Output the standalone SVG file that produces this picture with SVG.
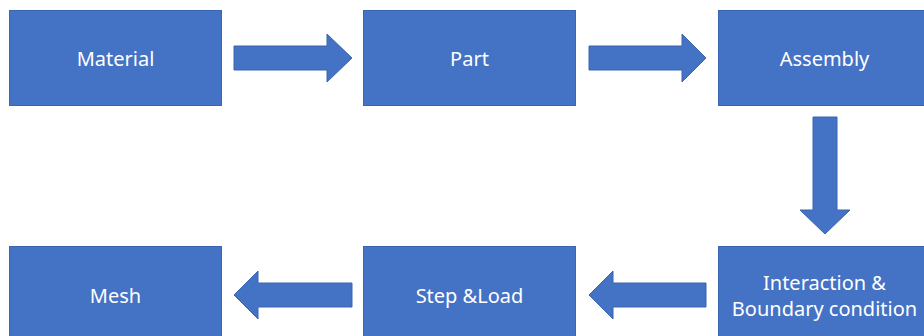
<svg xmlns="http://www.w3.org/2000/svg" width="924" height="336" viewBox="0 0 924 336">
<style>
.box{fill:#4472C4;stroke:#3A65B0;stroke-width:1}
.arr{fill:#4472C4;stroke:#3A65B0;stroke-width:1}
.t{font-family:"Noto Sans","Open Sans","DejaVu Sans",sans-serif;font-size:20px;fill:#FFFFFF;text-anchor:middle;dominant-baseline:central}
</style>
<rect width="924" height="336" fill="#FFFFFF"/>
<g id="material"><rect class="box" x="9.5" y="10.5" width="212" height="95"/><text class="t" x="115.5" y="58">Material</text></g>
<g id="part"><rect class="box" x="363.5" y="10.5" width="212" height="95"/><text class="t" x="469.5" y="58">Part</text></g>
<g id="assembly"><rect class="box" x="718.5" y="10.5" width="212" height="95"/><text class="t" x="824.5" y="58">Assembly</text></g>
<g id="interaction"><rect class="box" x="718.5" y="246.5" width="212" height="95"/><text class="t" x="824.5" y="282">Interaction &amp;</text><text class="t" x="824.5" y="308">Boundary condition</text></g>
<g id="step"><rect class="box" x="363.5" y="246.5" width="212" height="95"/><text class="t" x="469.5" y="295">Step &amp;Load</text></g>
<g id="mesh"><rect class="box" x="9.5" y="246.5" width="212" height="95"/><text class="t" x="115.5" y="295">Mesh</text></g>
<g id="connectors">
<polygon class="arr" points="234,46 327,46 327,34 352,58 327,82 327,70 234,70"/>
<polygon class="arr" points="589,46 682,46 682,34 706,58 682,82 682,70 589,70"/>
<polygon class="arr" points="813,117 837,117 837,210 850,210 825,234 800,210 813,210"/>
<polygon class="arr" points="706,283 613,283 613,271 589,295 613,319 613,307 706,307"/>
<polygon class="arr" points="352,283 258,283 258,271 234,295 258,319 258,307 352,307"/>
</g>
</svg>
